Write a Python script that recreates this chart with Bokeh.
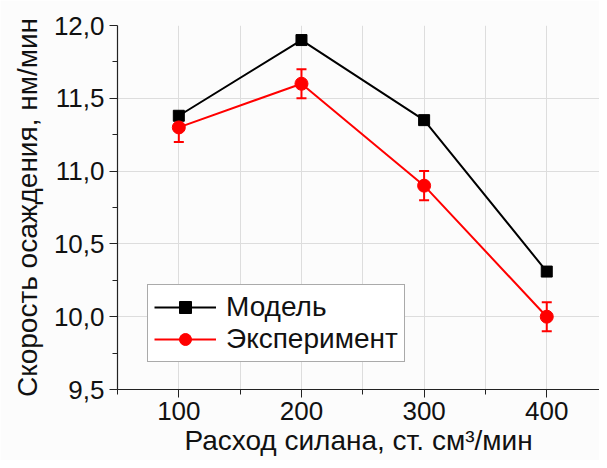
from bokeh.plotting import figure
from bokeh.models import (ColumnDataSource, Whisker, TeeHead, FixedTicker,
                          CustomJSTickFormatter, Range1d)
from bokeh.embed import file_html
from bokeh.resources import INLINE

flow = [100, 200, 300, 400]
model = [11.38, 11.90, 11.35, 10.31]
experiment = [11.30, 11.60, 10.90, 10.00]
exp_err = [0.1, 0.1, 0.1, 0.1]

x_ticks = [100, 200, 300, 400]
x_minor = [50, 150, 250, 350, 450]
y_ticks = [9.5, 10.0, 10.5, 11.0, 11.5, 12.0]
y_minor = [9.75, 10.25, 10.75, 11.25, 11.75]

FONT = "Liberation Sans"

p = figure(width=599, height=460, output_backend="svg", toolbar_location=None,
           x_range=Range1d(50, 443), y_range=Range1d(9.5, 12.0),
           min_border_left=117, min_border_right=0, min_border_top=25,
           min_border_bottom=71)
p.outline_line_color = None
p.background_fill_color = "#fcfcfc"
p.border_fill_color = "#fcfcfc"

p.xaxis.ticker = FixedTicker(ticks=x_ticks, minor_ticks=x_minor)
p.yaxis.ticker = FixedTicker(ticks=y_ticks, minor_ticks=y_minor)
p.yaxis.formatter = CustomJSTickFormatter(code="return tick.toFixed(1).replace('.', ',');")

for ax in (p.xaxis[0], p.yaxis[0]):
    ax.axis_line_color = "#222222"
    ax.axis_line_width = 1.2
    ax.major_tick_line_color = "#222222"
    ax.minor_tick_line_color = "#222222"
    ax.major_tick_in = 0
    ax.major_tick_out = 8
    ax.minor_tick_in = 0
    ax.minor_tick_out = 5
    ax.major_label_text_font = FONT
    ax.major_label_text_font_size = "26px"
    ax.major_label_text_color = "#111111"
    ax.axis_label_text_font = FONT
    ax.axis_label_text_font_size = "28px"
    ax.axis_label_text_font_style = "normal"
    ax.axis_label_text_color = "#111111"

p.xaxis.axis_label = "Расход силана, ст. см³/мин"
p.yaxis.axis_label = "Скорость осаждения, нм/мин"
p.xaxis.major_label_standoff = 4
p.yaxis.major_label_standoff = 5
p.xaxis.axis_label_standoff = 2
p.yaxis.axis_label_standoff = 8

p.xgrid.grid_line_color = "#dddddd"
p.xgrid.minor_grid_line_color = "#dddddd"
p.ygrid.grid_line_color = "#dddddd"

src = ColumnDataSource(dict(x=flow, m=model, e=experiment,
                            lo=[v - d for v, d in zip(experiment, exp_err)],
                            hi=[v + d for v, d in zip(experiment, exp_err)]))

p.line("x", "m", source=src, color="black", line_width=2, legend_label="Модель")
p.scatter("x", "m", source=src, marker="square", size=11, color="black",
          legend_label="Модель")

w = Whisker(source=src, base="x", lower="lo", upper="hi", line_color="red",
            line_width=2,
            lower_head=TeeHead(size=10, line_color="red", line_width=2),
            upper_head=TeeHead(size=10, line_color="red", line_width=2))
p.add_layout(w)

p.line("x", "e", source=src, color="red", line_width=2, legend_label="Эксперимент")
p.scatter("x", "e", source=src, marker="circle", size=13, color="red",
          legend_label="Эксперимент")

p.legend.location = (30, 27)
p.legend.label_text_font = FONT
p.legend.label_text_font_size = "28px"
p.legend.label_text_color = "#111111"
p.legend.label_height = 30
p.legend.glyph_height = 30
p.legend.label_standoff = 10
p.legend.border_line_color = "#555555"
p.legend.border_line_width = 1
p.legend.background_fill_alpha = 1
p.legend.glyph_width = 62
p.legend.spacing = 0
p.legend.padding = 6
p.legend.margin = 0

open("out.html", "w").write(file_html(p, INLINE))
